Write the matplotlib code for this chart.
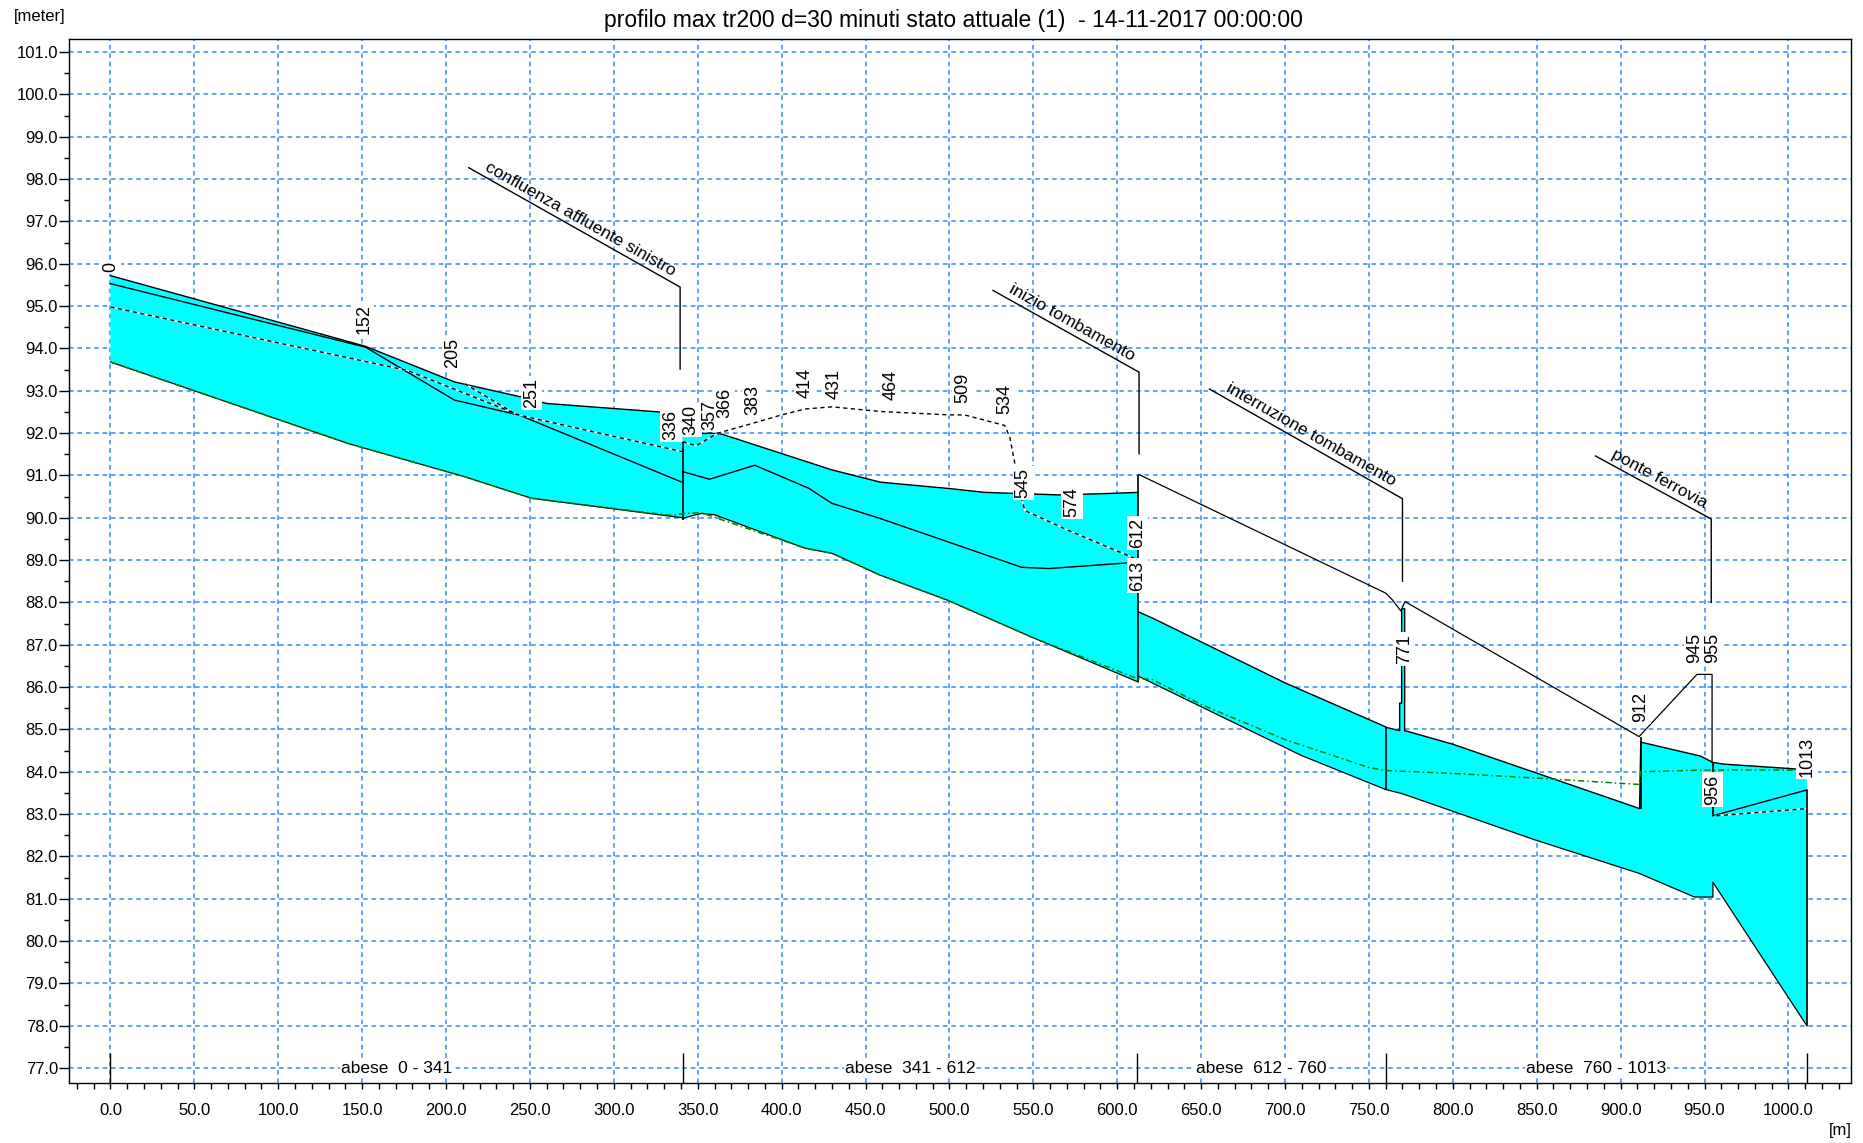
import numpy as np
import matplotlib
matplotlib.use("Agg")
import matplotlib.pyplot as plt
import matplotlib.transforms as mtransforms
from matplotlib.ticker import MultipleLocator, FormatStrFormatter

plt.rcParams['font.family'] = ['Liberation Sans', 'DejaVu Sans']

title = "profilo max tr200 d=30 minuti stato attuale (1)  - 14-11-2017 00:00:00"

# water surface (top of the cyan band), one list per reach
ws1_x = [0, 152, 205, 244, 260, 327, 341]
ws1_y = [95.72, 94.05, 93.21, 92.86, 92.70, 92.50, 92.45]
ws2_x = [341, 357, 364, 430, 459, 500, 521, 565, 592, 612.5]
ws2_y = [91.96, 92.00, 91.98, 91.13, 90.84, 90.69, 90.60, 90.54, 90.57, 90.60]
ws3_x = [613, 621, 700, 760]
ws3_y = [87.77, 87.63, 86.10, 85.06]
ws4_x = [760, 768.3, 768.3, 769.5, 769.5, 771.3, 771.3, 772.4, 800, 911.3, 912, 947.6, 955, 961.5, 1003, 1011]
ws4_y = [85.05, 84.97, 85.62, 85.62, 87.85, 87.85, 84.97, 84.96, 84.65, 83.13, 84.70, 84.37, 84.22, 84.18, 84.07, 84.04]

# bed (bottom of the cyan band)
bed1_x = [0, 142, 211, 251, 335, 341]
bed1_y = [93.68, 91.75, 90.97, 90.46, 90.03, 90.00]
bed2_x = [341, 352, 360, 414, 430, 459, 499, 549, 612.5]
bed2_y = [89.99, 90.10, 90.07, 89.28, 89.16, 88.64, 88.05, 87.18, 86.12]
bed3_x = [613, 710, 760]
bed3_y = [86.25, 84.38, 83.58]
bed4_x = [760, 770, 849, 911, 944, 955, 955, 1011]
bed4_y = [83.58, 83.48, 82.39, 81.60, 81.04, 81.04, 81.39, 78.00]

# second solid profile line
l2a_x = [0, 152, 205, 244, 340]
l2a_y = [95.53, 94.03, 92.78, 92.42, 90.85]
l2b_x = [341, 357, 384, 416, 430, 459, 543, 559, 605, 612.5]
l2b_y = [91.09, 90.91, 91.24, 90.70, 90.34, 89.98, 88.83, 88.80, 88.93, 89.00]
l2c_x = [955, 1011]
l2c_y = [82.96, 83.57]

# dashed profile line
cr1_x = [0, 177, 244, 341]
cr1_y = [94.98, 93.48, 92.42, 91.56]
cr1b_x = [211, 241]
cr1b_y = [93.17, 92.46]
cr2_x = [341, 349, 362, 380, 400, 414, 430, 459, 500, 509, 533, 536, 539, 542, 545, 571, 611]
cr2_y = [91.80, 91.70, 92.00, 92.20, 92.43, 92.57, 92.62, 92.51, 92.43, 92.43, 92.18, 91.90,
         91.28, 90.57, 90.17, 89.70, 89.03]
cr4_x = [957, 1011]
cr4_y = [82.96, 83.13]

# green dash-dot line
gr_x = [0, 142, 211, 251, 335, 341, 352, 414, 430, 459, 499, 549, 612, 621, 650, 700, 750, 760,
        800, 850, 911, 912, 950, 1003]
gr_y = [93.68, 91.75, 90.97, 90.46, 90.05, 90.10, 90.12, 89.28, 89.16, 88.64, 88.05, 87.18, 86.20,
        86.18, 85.59, 84.76, 84.10, 84.03, 83.96, 83.85, 83.70, 84.00, 84.04, 84.04]

# culvert / bridge top
ct_x = [613, 760, 764, 769, 771.5, 911, 945.5, 954.5, 954.5]
ct_y = [91.02, 88.22, 88.06, 87.80, 88.02, 84.83, 86.30, 86.30, 84.22]

# vertical black segments (x, y bottom, y top)
vert_x = [341, 612.5, 760, 912, 955, 1011]
vert_lo = [89.95, 86.12, 83.58, 83.13, 82.96, 78.00]
vert_hi = [91.80, 91.02, 85.05, 84.83, 84.22, 83.57]

# annotations
ann_text = ["confluenza affluente sinistro", "inizio tombamento",
            "interruzione tombamento", "ponte ferrovia"]
ann_x0 = [213.5, 526, 655, 885]
ann_y0 = [98.27, 95.37, 93.04, 91.46]
ann_x1 = [339.5, 613, 770, 954]
ann_y1 = [95.45, 93.44, 90.45, 89.97]
ann_yend = [93.51, 91.51, 88.50, 88.00]

# section labels
sec_labels = ["0", "152", "205", "251", "336", "340", "357", "366", "383", "414", "431", "464",
              "509", "534", "545", "574", "612", "613", "771", "912", "945", "955", "956", "1013"]
sec_x = [0, 151, 204, 251, 334, 346, 357, 366, 383, 414, 431, 465,
         508, 533, 544, 573, 612, 612, 771, 912, 944, 954.7, 954.7, 1011]
sec_y = [95.80, 94.35, 93.54, 92.59, 91.84, 91.95, 92.08, 92.36, 92.43, 92.83, 92.80, 92.79,
         92.71, 92.44, 90.47, 90.02, 89.28, 88.28, 86.55, 85.18, 86.57, 86.57, 83.22, 83.87]

# reaches along the bottom
reach_names = ["abese  0 - 341", "abese  341 - 612", "abese  612 - 760", "abese  760 - 1013"]
reach_bounds = [0, 341, 612, 760, 1011]

fig = plt.figure(figsize=(18.63, 11.43), dpi=100)
ax = fig.add_axes([69 / 1863, 1 - 1083.3 / 1143, (1851 - 69) / 1863, (1083.3 - 39) / 1143])
ax.set_xlim(-24.7, 1037.3)
ax.set_ylim(76.64, 101.31)

cyan = '#00ffff'
reaches = [(ws1_x, ws1_y, bed1_x, bed1_y), (ws2_x, ws2_y, bed2_x, bed2_y),
           (ws3_x, ws3_y, bed3_x, bed3_y), (ws4_x, ws4_y, bed4_x, bed4_y)]
for wx, wy, bx, by in reaches:
    ax.fill(list(wx) + list(bx)[::-1], list(wy) + list(by)[::-1], color=cyan, lw=0, zorder=1)
    ax.plot(wx, wy, color='black', lw=1.0, zorder=3)
    ax.plot(bx, by, color='black', lw=0.9, zorder=3)

for lx, ly in [(l2a_x, l2a_y), (l2b_x, l2b_y), (l2c_x, l2c_y)]:
    ax.plot(lx, ly, color='black', lw=1.0, zorder=3)

for cx, cy in [(cr1_x, cr1_y), (cr1b_x, cr1b_y), (cr2_x, cr2_y), (cr4_x, cr4_y)]:
    ax.plot(cx, cy, color='white', lw=1.0, zorder=3)
    ax.plot(cx, cy, color='black', lw=1.0, ls=(0, (3, 2.5)), zorder=3.1)

ax.plot(gr_x, gr_y, color='#008000', lw=1.1, ls=(0, (4, 2, 1, 2)), zorder=3.2)
ax.plot(ct_x, ct_y, color='black', lw=0.9, zorder=3)
ax.vlines(vert_x, vert_lo, vert_hi, color='black', lw=1.2, zorder=3)


def line_angle(x0, y0, x1, y1):
    p0 = ax.transData.transform((x0, y0))
    p1 = ax.transData.transform((x1, y1))
    return np.degrees(np.arctan2(p1[1] - p0[1], p1[0] - p0[0]))


for s, x0, y0, x1, y1, ye in zip(ann_text, ann_x0, ann_y0, ann_x1, ann_y1, ann_yend):
    ax.plot([x0, x1, x1], [y0, y1, ye], color='black', lw=1.0, zorder=3)
    ang = line_angle(x0, y0, x1, y1)
    th = np.radians(ang)
    # push the text a couple of points off the line, perpendicular to it
    tr = mtransforms.offset_copy(ax.transData, fig=fig, x=-2.0 * np.sin(th),
                                 y=2.0 * np.cos(th), units='points')
    xa = x0 + 7.5
    ya = y0 + (y1 - y0) * (xa - x0) / (x1 - x0)
    ax.text(xa, ya, s, rotation=ang, rotation_mode='anchor', transform=tr,
            ha='left', va='bottom', fontsize=12.5, zorder=4)

for s, x, y in zip(sec_labels, sec_x, sec_y):
    ax.text(x, y, s, rotation=90, ha='center', va='bottom', fontsize=13, zorder=5,
            bbox=dict(boxstyle='square,pad=0.12', fc='white', ec='none'))

ylo = ax.get_ylim()[0]
ax.vlines(reach_bounds, ylo, 77.35, color='black', lw=1.0, zorder=3)
for name, a, b in zip(reach_names, reach_bounds[:-1], reach_bounds[1:]):
    ax.text((a + b) / 2, 77.0, name, ha='center', va='center', fontsize=12.5, zorder=5,
            bbox=dict(boxstyle='square,pad=0.05', fc='white', ec='none'))

ax.set_axisbelow(True)
ax.grid(True, which='major', color='#2b8cff', ls=(0, (3, 2.5)), lw=1.1)
ax.xaxis.set_major_locator(MultipleLocator(50))
ax.xaxis.set_minor_locator(MultipleLocator(10))
ax.yaxis.set_major_locator(MultipleLocator(1))
ax.yaxis.set_minor_locator(MultipleLocator(0.5))
ax.xaxis.set_major_formatter(FormatStrFormatter('%.1f'))
ax.yaxis.set_major_formatter(FormatStrFormatter('%.1f'))
ax.tick_params(axis='x', which='both', direction='out', length=4, width=1, pad=10, labelsize=12)
ax.tick_params(axis='y', which='major', direction='out', length=7, width=1, pad=1, labelsize=12)
ax.tick_params(axis='y', which='minor', direction='out', length=3.5, width=1)
for sp in ax.spines.values():
    sp.set_linewidth(1.0)

fig.text(0.512, 1 - 21 / 1143, title, ha='center', va='center', fontsize=16.5)
fig.text(14 / 1863, 1 - 16 / 1143, "[meter]", ha='left', va='center', fontsize=12)
fig.text(1852 / 1863, 1 - 1131 / 1143, "[m]", ha='right', va='center', fontsize=12)

fig.savefig('out.png', dpi=100)
